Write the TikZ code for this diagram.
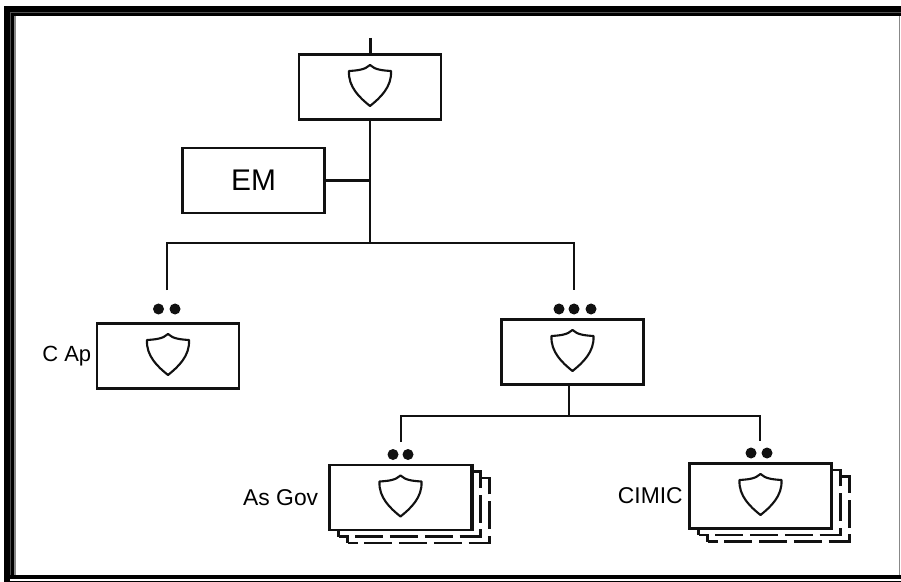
\documentclass[tikz,border=0pt]{standalone}
\usepackage{fontspec}
\setmainfont{Liberation Sans}
\definecolor{OrgBlack}{HTML}{111111}
\definecolor{OrgGrey}{HTML}{888888}
\tikzset{
  unitbox/.style={draw=OrgBlack,fill=white,line width=1.25pt,minimum width=2.84cm,minimum height=1.3cm,inner sep=0pt},
  backbox/.style={draw=OrgBlack,fill=white,line width=1.2pt,dash pattern=on 16pt off 3.8pt,dash phase=10.3pt,minimum width=2.84cm,minimum height=1.3cm,inner sep=0pt},
  lane/.style={draw=OrgBlack,line width=1.3pt},
  rankdot/.style={circle,fill=OrgBlack,minimum size=.22cm,inner sep=0pt},
  sidelabel/.style={anchor=east,inner sep=0pt,font=\fontsize{13pt}{15pt}\selectfont},
  shield/.pic={
    \draw[OrgBlack,line width=1.2pt,line join=round] (0,-.44) .. controls (-.1,-.34) and (-.27,-.33) .. (-.42,-.32)
      .. controls (-.44,.0) and (-.2,.22) .. (0,.38)
      .. controls (.2,.22) and (.44,.0) .. (.42,-.32)
      .. controls (.27,-.33) and (.1,-.34) .. (0,-.44) -- cycle;
  }
}
\begin{document}
\begin{tikzpicture}[x=1cm,y=-1cm]
\path[use as bounding box] (0,0) rectangle (18.02,11.64);
\fill[white] (0,0) rectangle (18.02,11.64);
% frame
\fill[black] (.08,.12) rectangle (18.02,.33);
\fill[black] (.08,.12) rectangle (.29,11.58);
\fill[black] (.08,11.5) rectangle (.2,11.64);
\fill[black] (.08,11.5) rectangle (18.02,11.58);
\fill[black] (.08,11.62) rectangle (18.02,11.64);
\draw[OrgGrey!60!black,line width=.2pt] (18.02,.24) -- (.2,.24) -- (.2,11.5);
\draw[OrgGrey,line width=.6pt] (.3,.33) -- (.3,11.5);
\draw[OrgGrey,line width=.9pt] (17.99,.33) -- (17.99,11.5);
% units
\node[unitbox] (hq) at (7.40,1.74) {};
\pic at (hq.center) {shield};
\node[unitbox] (em) at (5.07,3.61) {\fontsize{17pt}{20pt}\selectfont EM};
\node[unitbox] (cap) at (3.36,7.12) {};
\pic at (cap.center) {shield};
\node[unitbox] (gp) at (11.45,7.04) {};
\pic at (gp.center) {shield};
\node[backbox] (govb) at (8.37,10.21) {};
\node[backbox] (govm) at (8.19,10.08) {};
\node[unitbox] (gov) at (8.01,9.95) {};
\node[backbox] (cimicb) at (15.57,10.18) {};
\node[backbox] (cimicm) at (15.39,10.05) {};
\node[unitbox] (cimic) at (15.21,9.92) {};
\pic at (gov.center) {shield};
\pic at (cimic.center) {shield};
% connectors
\coordinate (in) at (7.40,.76);
\coordinate (mid) at (7.40,4.86);
\coordinate (capin) at (3.34,5.8);
\coordinate (gpin) at (11.48,5.8);
\coordinate (capup) at (3.34,4.86);
\coordinate (gpup) at (11.48,4.86);
\coordinate (low) at (11.38,8.32);
\coordinate (govup) at (8.02,8.32);
\coordinate (cimicup) at (15.20,8.32);
\coordinate (govin) at (8.02,8.84);
\coordinate (cimicin) at (15.20,8.82);
\draw[lane,line width=1.7pt] (in) -- (hq.north);
\draw[lane] (hq.south) -- (mid);
\draw[lane,line width=1.15pt] (em.east) -- (em.east -| mid);
\draw[lane] (capin) -- (capup) -- (gpup) -- (gpin);
\draw[lane] (gp.south -| low) -- (low);
\draw[lane] (govin) -- (govup) -- (cimicup) -- (cimicin);
\draw[OrgBlack,line width=2pt] (gov.north east) -- (gov.south east);
% rank dots
\node[rankdot] (capa) at (3.17,6.18) {};
\node[rankdot] (capb) at (3.50,6.18) {};
\node[rankdot] (gpa) at (11.18,6.18) {};
\node[rankdot] (gpb) at (11.48,6.18) {};
\node[rankdot] (gpc) at (11.82,6.18) {};
\node[rankdot] (gova) at (7.86,9.09) {};
\node[rankdot] (govc) at (8.16,9.09) {};
\node[rankdot] (cimica) at (15.02,9.06) {};
\node[rankdot] (cimicc) at (15.34,9.06) {};
% labels
\node[sidelabel,font=\fontsize{12.5pt}{15pt}\selectfont] (caplab) at (1.83,7.12) {C Ap};
\node[sidelabel] (govlab) at (6.37,9.95) {As Gov};
\node[sidelabel] (cimiclab) at (13.66,9.92) {CIMIC};
\end{tikzpicture}
\end{document}
